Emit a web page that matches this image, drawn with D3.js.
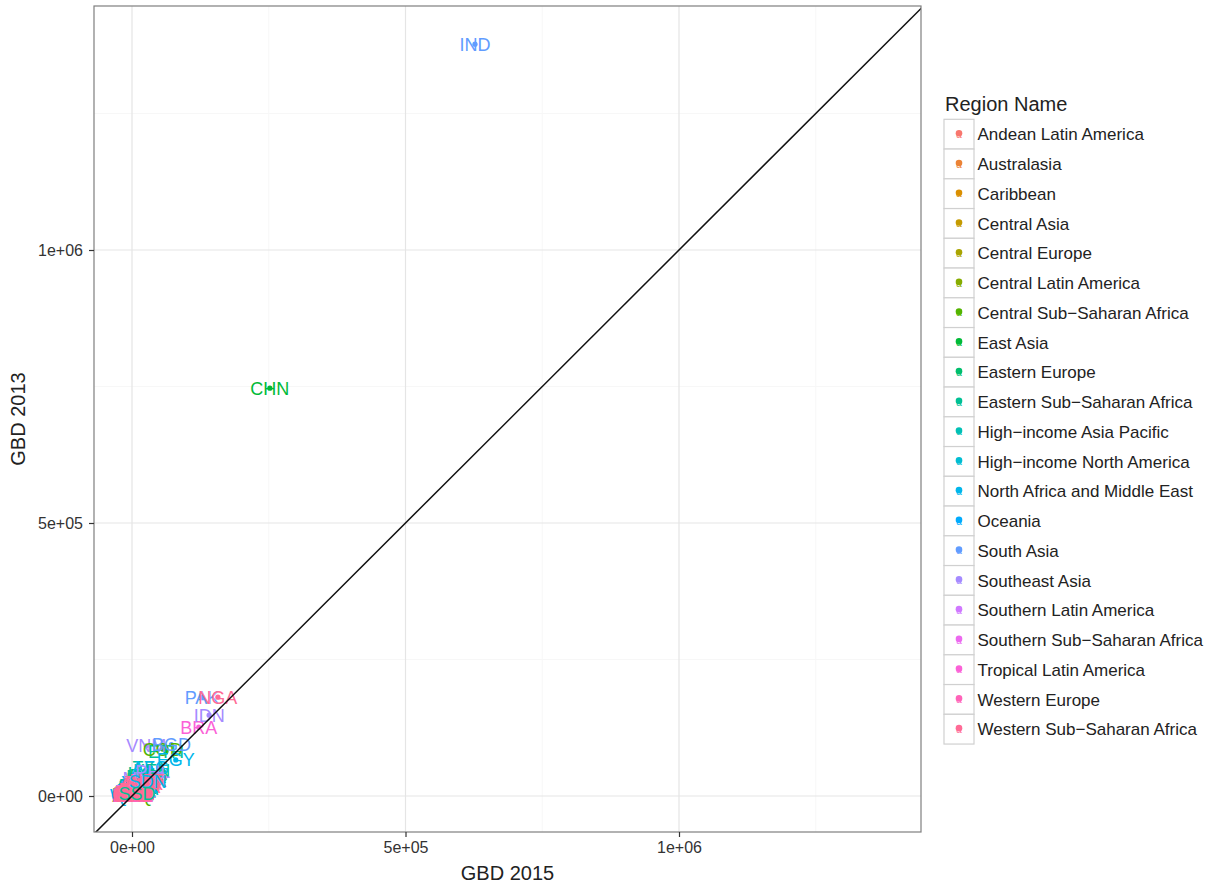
<!DOCTYPE html>
<html>
<head>
<meta charset="utf-8">
<script src="https://cdn.jsdelivr.net/npm/d3@7"></script>
<style>
  body { margin: 0; background: #fff; }
  svg { font-family: "Liberation Sans", Arial, sans-serif; }
</style>
</head>
<body>
<svg id="chart" width="1218" height="888"></svg>
<script>
// ---------------- DATA ----------------
const regions = [
  "Andean Latin America", "Australasia", "Caribbean", "Central Asia", "Central Europe",
  "Central Latin America", "Central Sub\u2212Saharan Africa", "East Asia", "Eastern Europe",
  "Eastern Sub\u2212Saharan Africa", "High\u2212income Asia Pacific", "High\u2212income North America",
  "North Africa and Middle East", "Oceania", "South Asia", "Southeast Asia",
  "Southern Latin America", "Southern Sub\u2212Saharan Africa", "Tropical Latin America",
  "Western Europe", "Western Sub\u2212Saharan Africa"
];

const iso = [
  "BOL","ECU","PER",
  "AUS","NZL",
  "ATG","BHS","BRB","BLZ","CUB","DMA","DOM","GRD","GUY","HTI","JAM","LCA","VCT","SUR","TTO","PRI","BMU","VIR",
  "ARM","AZE","GEO","KAZ","KGZ","MNG","TJK","TKM","UZB",
  "ALB","BIH","BGR","HRV","CZE","HUN","MKD","MNE","POL","ROU","SRB","SVK","SVN",
  "COL","CRI","SLV","GTM","HND","MEX","NIC","PAN","VEN",
  "AGO","CAF","COG","GNQ","GAB",
  "PRK","TWN",
  "BLR","EST","LVA","LTU","MDA","RUS","UKR",
  "BDI","COM","DJI","ERI","KEN","MDG","MWI","MUS","MOZ","RWA","SOM","TZA","UGA","ZMB",
  "BRN","JPN","KOR","SGP",
  "CAN","USA",
  "DZA","BHR","IRN","IRQ","JOR","KWT","LBN","LBY","MAR","PSE","OMN","QAT","SAU","SYR","TUN","TUR","ARE","YEM","AFG",
  "FJI","KIR","MHL","FSM","PNG","WSM","SLB","TON","VUT",
  "BTN","NPL",
  "KHM","LAO","MYS","MDV","MMR","PHL","LKA","THA","TLS",
  "ARG","CHL","URY",
  "BWA","LSO","NAM","ZAF","SWZ","ZWE",
  "PRY",
  "AND","AUT","BEL","CYP","DNK","FIN","FRA","DEU","GRC","ISL","IRL","ISR","ITA","LUX","MLT","NLD","NOR","PRT","ESP","SWE","CHE","GBR",
  "BEN","BFA","CMR","CPV","TCD","CIV","GMB","GHA","GIN","GNB","LBR","MLI","MRT","NER","STP","SEN","SLE","TGO",
  "VNM","ETH","COD","EGY","BGD","SDN","SSD",
  "BRA","IDN","PAK","NGA","CHN","IND"
];

const regionOf = [
  0,0,0,
  1,1,
  2,2,2,2,2,2,2,2,2,2,2,2,2,2,2,2,2,2,
  3,3,3,3,3,3,3,3,3,
  4,4,4,4,4,4,4,4,4,4,4,4,4,
  5,5,5,5,5,5,5,5,5,
  6,6,6,6,6,
  7,7,
  8,8,8,8,8,8,8,
  9,9,9,9,9,9,9,9,9,9,9,9,9,9,
  10,10,10,10,
  11,11,
  12,12,12,12,12,12,12,12,12,12,12,12,12,12,12,12,12,12,12,
  13,13,13,13,13,13,13,13,13,
  14,14,
  15,15,15,15,15,15,15,15,15,
  16,16,16,
  17,17,17,17,17,17,
  18,
  19,19,19,19,19,19,19,19,19,19,19,19,19,19,19,19,19,19,19,19,19,19,
  20,20,20,20,20,20,20,20,20,20,20,20,20,20,20,20,20,20,
  15,9,6,12,14,12,9,
  18,15,14,20,7,14
];

const gbd2015 = [
  6000,5000,9000,
  1500,300,
  50,100,60,200,1200,30,4000,40,500,9000,800,60,40,250,400,600,10,20,
  600,3000,800,4000,2500,1200,5000,2000,14000,
  500,400,1500,800,2000,2500,300,100,6000,4500,1800,1000,300,
  14000,800,1500,7000,3000,25000,1500,900,8000,
  22000,6000,4000,900,800,
  8000,3000,
  2000,300,500,700,1000,30000,9000,
  8000,400,500,2500,36000,14000,12000,200,26000,6000,12000,32000,28000,11000,
  50,7000,2000,200,
  1500,14000,
  8000,100,12000,18000,1000,300,400,700,8000,700,300,150,3000,5000,1200,15000,500,16000,34000,
  150,50,20,30,4000,40,200,20,60,
  300,10000,
  5000,3000,2500,30,22000,38000,2000,6000,500,
  6000,1800,500,
  1200,2000,1500,20000,1000,7000,
  1500,
  5,500,700,100,400,300,4000,5000,700,20,300,500,3500,40,30,1200,400,800,3000,700,500,5500,
  9000,18000,20000,100,21000,17000,1500,16000,9000,1500,3000,26000,2500,30000,100,8000,7000,5000,
  26000,62000,56000,80000,72000,29000,9000,
  122000,141000,128000,157000,252000,627000
];

const gbd2013 = [
  9000,7000,12000,
  1000,200,
  40,80,50,300,1500,20,5000,30,700,14000,900,50,40,300,500,500,10,20,
  900,5000,1000,5000,3500,1800,8000,3000,22000,
  600,500,1800,900,2200,2700,400,120,7000,5500,2100,1100,300,
  16000,900,2000,9000,3500,30000,2000,1000,10000,
  30000,9000,5000,1200,1000,
  12000,3500,
  2500,350,600,800,1300,38000,11000,
  12000,600,700,4000,46000,20000,17000,250,36000,9000,19000,52000,42000,15000,
  40,6000,2200,150,
  1400,13000,
  9000,90,14000,22000,1200,300,500,800,10000,800,300,150,3500,6000,1500,18000,450,24000,52000,
  200,80,30,40,6000,50,300,20,80,
  400,16000,
  8000,5000,2500,40,32000,44000,2500,7000,800,
  6500,1900,450,
  1300,2500,1800,22000,1200,9000,
  1700,
  5,450,650,90,350,250,3500,4500,650,20,280,450,3200,35,25,1100,350,750,2800,650,450,5000,
  11000,21000,22000,120,24000,20000,2000,18000,12000,2000,4000,25000,3000,28000,120,10000,9000,6000,
  92000,82000,86000,66000,94000,26000,5000,
  126000,148000,181000,181000,747000,1377000
];

const xTicks = [0, 500000, 1000000];
const yTicks = [0, 500000, 1000000];
const xMinor = [250000, 750000, 1250000];
const yMinor = [250000, 750000, 1250000];
const xTitle = "GBD 2015";
const yTitle = "GBD 2013";
const legendTitle = "Region Name";

// ---------------- COLOURS (ggplot2 hue palette, polarLUV) ----------------
function hclLuvToHex(h, c, l) {
  const hr = h * Math.PI / 180;
  const u = c * Math.cos(hr), v = c * Math.sin(hr);
  const Xn = 95.047, Yn = 100.0, Zn = 108.883;
  const un = 4 * Xn / (Xn + 15 * Yn + 3 * Zn);
  const vn = 9 * Yn / (Xn + 15 * Yn + 3 * Zn);
  const Y = l > 8 ? Yn * Math.pow((l + 16) / 116, 3) : Yn * l / 903.3;
  const up = u / (13 * l) + un, vp = v / (13 * l) + vn;
  const X = Y * 9 * up / (4 * vp);
  const Z = Y * (12 - 3 * up - 20 * vp) / (4 * vp);
  const x = X / 100, y = Y / 100, z = Z / 100;
  let r = 3.240479 * x - 1.537150 * y - 0.498535 * z;
  let g = -0.969256 * x + 1.875992 * y + 0.041556 * z;
  let b = 0.055648 * x - 0.204043 * y + 1.057311 * z;
  const gam = t => t > 0.0031308 ? 1.055 * Math.pow(t, 1 / 2.4) - 0.055 : 12.92 * t;
  const cl = t => Math.max(0, Math.min(255, Math.round(gam(t) * 255)));
  return d3.rgb(cl(r), cl(g), cl(b)).formatHex();
}
const nReg = regions.length;
const palette = regions.map((_, i) => hclLuvToHex(15 + i * 360 / nReg, 100, 65));
const color = d3.scaleOrdinal().domain(regions).range(palette);

// ---------------- LAYOUT ----------------
const svg = d3.select("#chart");
const P = { left: 94, right: 921, top: 6, bottom: 832 };
const x = d3.scaleLinear().domain([-69470, 1442400]).range([P.left, P.right]);
const y = d3.scaleLinear().domain([-65930, 1446900]).range([P.bottom, P.top]);

const data = iso.map((c, i) => ({ iso: c, region: regions[regionOf[i]], x: gbd2015[i], y: gbd2013[i] }));

svg.append("defs").append("clipPath").attr("id", "clip")
  .append("rect").attr("x", P.left).attr("y", P.top)
  .attr("width", P.right - P.left).attr("height", P.bottom - P.top);

svg.append("rect").attr("x", P.left).attr("y", P.top)
  .attr("width", P.right - P.left).attr("height", P.bottom - P.top).attr("fill", "#fff");

// grid
const grid = svg.append("g").attr("clip-path", "url(#clip)");
grid.selectAll(".vmin").data(xMinor).join("line")
  .attr("x1", d => x(d)).attr("x2", d => x(d)).attr("y1", P.top).attr("y2", P.bottom)
  .attr("stroke", "#f7f7f7").attr("stroke-width", 1);
grid.selectAll(".hmin").data(yMinor).join("line")
  .attr("y1", d => y(d)).attr("y2", d => y(d)).attr("x1", P.left).attr("x2", P.right)
  .attr("stroke", "#f7f7f7").attr("stroke-width", 1);
grid.selectAll(".vmaj").data(xTicks).join("line")
  .attr("x1", d => x(d)).attr("x2", d => x(d)).attr("y1", P.top).attr("y2", P.bottom)
  .attr("stroke", "#e5e5e5").attr("stroke-width", 1.2);
grid.selectAll(".hmaj").data(yTicks).join("line")
  .attr("y1", d => y(d)).attr("y2", d => y(d)).attr("x1", P.left).attr("x2", P.right)
  .attr("stroke", "#e5e5e5").attr("stroke-width", 1.2);

// marks
const marks = svg.append("g").attr("clip-path", "url(#clip)");
marks.selectAll("circle").data(data).join("circle")
  .attr("cx", d => x(d.x)).attr("cy", d => y(d.y)).attr("r", 2.6)
  .attr("fill", d => color(d.region));
marks.selectAll("text").data(data).join("text")
  .attr("x", d => x(d.x)).attr("y", d => y(d.y)).attr("dy", "0.36em")
  .attr("text-anchor", "middle").attr("font-size", 18)
  .attr("fill", d => color(d.region)).text(d => d.iso);

// diagonal y = x
const lo = Math.min(x.domain()[0], y.domain()[0]), hi = Math.max(x.domain()[1], y.domain()[1]);
marks.append("line")
  .attr("x1", x(lo)).attr("y1", y(lo)).attr("x2", x(hi)).attr("y2", y(hi))
  .attr("stroke", "#111").attr("stroke-width", 1.5);

// panel border
svg.append("rect").attr("x", P.left).attr("y", P.top)
  .attr("width", P.right - P.left).attr("height", P.bottom - P.top)
  .attr("fill", "none").attr("stroke", "#7f7f7f").attr("stroke-width", 1.2);

// axes
const fmt = d => d === 0 ? "0e+00" : d3.format(".0e")(d).replace(/e\+(\d)$/, "e+0$1");
const xAxis = svg.append("g").attr("transform", `translate(0,${P.bottom})`)
  .call(d3.axisBottom(x).tickValues(xTicks).tickFormat(fmt).tickSize(5).tickPadding(5));
const yAxis = svg.append("g").attr("transform", `translate(${P.left},0)`)
  .call(d3.axisLeft(y).tickValues(yTicks).tickFormat(fmt).tickSize(5).tickPadding(6));
[xAxis, yAxis].forEach(a => {
  a.select(".domain").remove();
  a.selectAll(".tick line").attr("stroke", "#333").attr("stroke-width", 1.2);
  a.selectAll(".tick text").attr("font-size", 16).attr("fill", "#333")
    .attr("font-family", "Liberation Sans, Arial, sans-serif");
});

svg.append("text").attr("x", (P.left + P.right) / 2).attr("y", 880)
  .attr("text-anchor", "middle").attr("font-size", 20).attr("fill", "#222").text(xTitle);
svg.append("text").attr("transform", `translate(25,${(P.top + P.bottom) / 2}) rotate(-90)`)
  .attr("text-anchor", "middle").attr("font-size", 20).attr("fill", "#222").text(yTitle);

// legend
const L = { x: 944, y: 119.3, key: 29.75, kw: 30 };
svg.append("text").attr("x", 945).attr("y", 111).attr("font-size", 20).attr("fill", "#222").text(legendTitle);
const lg = svg.append("g").selectAll("g").data(regions).join("g")
  .attr("transform", (d, i) => `translate(${L.x},${L.y + i * L.key})`);
lg.append("rect").attr("width", L.kw).attr("height", L.key)
  .attr("fill", "#fff").attr("stroke", "#d0d0d0").attr("stroke-width", 1.2);
lg.append("circle").attr("cx", L.kw / 2).attr("cy", L.key / 2 - 1).attr("r", 3.3)
  .attr("fill", d => color(d));
lg.append("text").attr("x", L.kw / 2).attr("y", L.key / 2).attr("dy", "0.36em")
  .attr("text-anchor", "middle").attr("font-size", 10).attr("fill", d => color(d)).text("a");
lg.append("text").attr("x", 33.5).attr("y", L.key / 2).attr("dy", "0.36em")
  .attr("font-size", 17).attr("fill", "#222").text(d => d);
</script>
</body>
</html>
